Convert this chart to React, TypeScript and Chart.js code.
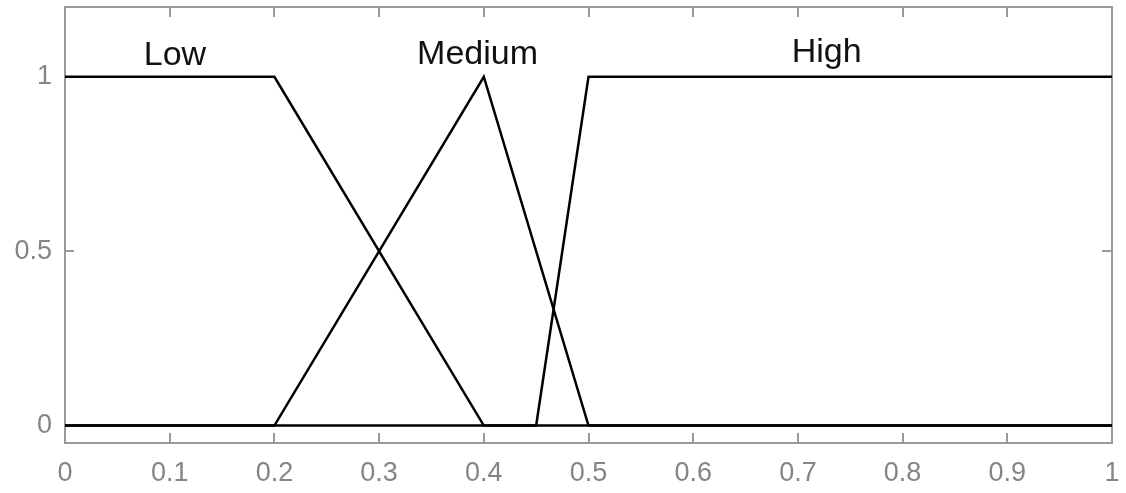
import React, { useEffect, useRef } from "react";
import { Chart, registerables } from "chart.js";

Chart.register(...registerables);

// Membership functions (x in [0,1], degree of membership)
const lowX = [0, 0.2, 0.4, 1];
const lowY = [1, 1, 0, 0];
const mediumX = [0, 0.2, 0.4, 0.5, 1];
const mediumY = [0, 0, 1, 0, 0];
const highX = [0, 0.45, 0.5, 1];
const highY = [0, 0, 1, 1];

const xTicks = [0, 0.1, 0.2, 0.3, 0.4, 0.5, 0.6, 0.7, 0.8, 0.9, 1];
const yTicks = [0, 0.5, 1];

const labelNames = ["Low", "Medium", "High"];
const labelX = [0.105, 0.394, 0.7275];
const labelY = [1.035, 1.037, 1.043];

const toPoints = (xs: number[], ys: number[]) => xs.map((x, i) => ({ x, y: ys[i] }));

const FONT = "'Liberation Sans', Arial, sans-serif";

const boxPlugin = {
  id: "matlabBox",
  beforeDatasetsDraw(chart: any) {
    const { ctx, chartArea } = chart;
    const { left, right, top, bottom } = chartArea;
    const xs = chart.scales.x;
    const ys = chart.scales.y;
    ctx.save();
    ctx.strokeStyle = "#9a9a9a";
    ctx.lineWidth = 2;
    ctx.strokeRect(left, top, right - left, bottom - top);
    ctx.lineWidth = 2;
    ctx.beginPath();
    xTicks.forEach((v) => {
      const px = Math.round(xs.getPixelForValue(v));
      ctx.moveTo(px, bottom);
      ctx.lineTo(px, bottom - 10);
      ctx.moveTo(px, top);
      ctx.lineTo(px, top + 10);
    });
    yTicks.forEach((v) => {
      const py = Math.round(ys.getPixelForValue(v));
      ctx.moveTo(left, py);
      ctx.lineTo(left + 9, py);
      ctx.moveTo(right, py);
      ctx.lineTo(right - 10, py);
    });
    ctx.stroke();
    ctx.restore();
  },
  afterDatasetsDraw(chart: any) {
    const { ctx } = chart;
    const xs = chart.scales.x;
    const ys = chart.scales.y;
    ctx.save();
    ctx.fillStyle = "#111";
    ctx.font = `34px ${FONT}`;
    ctx.textAlign = "center";
    ctx.textBaseline = "alphabetic";
    labelNames.forEach((name, i) => {
      ctx.fillText(name, xs.getPixelForValue(labelX[i]), ys.getPixelForValue(labelY[i]));
    });
    ctx.restore();
  },
};

export default function App() {
  const canvasRef = useRef<HTMLCanvasElement | null>(null);

  useEffect(() => {
    if (!canvasRef.current) return;
    const lineStyle = {
      borderColor: "#000",
      borderWidth: 2.5,
      pointRadius: 0,
      fill: false,
      tension: 0,
    };
    const chart = new Chart(canvasRef.current, {
      type: "line",
      data: {
        datasets: [
          { label: "Low", data: toPoints(lowX, lowY), ...lineStyle },
          { label: "Medium", data: toPoints(mediumX, mediumY), ...lineStyle },
          { label: "High", data: toPoints(highX, highY), ...lineStyle },
        ],
      },
      options: {
        responsive: false,
        animation: false,
        events: [],
        layout: { padding: { top: 7, right: 14, left: 0, bottom: 0 } },
        plugins: { legend: { display: false }, tooltip: { enabled: false } },
        scales: {
          x: {
            type: "linear",
            min: 0,
            max: 1,
            grid: { display: false, drawTicks: false },
            border: { display: false },
            afterBuildTicks: (scale: any) => {
              scale.ticks = xTicks.map((v) => ({ value: v }));
            },
            afterFit: (scale: any) => {
              scale.height = 50;
              scale.paddingLeft = 0;
              scale.paddingRight = 0;
              scale.paddingTop = 0;
              scale.paddingBottom = 0;
            },
            ticks: {
              autoSkip: false,
              maxRotation: 0,
              padding: 14,
              color: "#858585",
              font: { family: FONT, size: 27 },
              callback: (v: any) => String(Math.round(Number(v) * 10) / 10),
            },
          },
          y: {
            type: "linear",
            min: -0.05,
            max: 1.2,
            grid: { display: false, drawTicks: false },
            border: { display: false },
            afterBuildTicks: (scale: any) => {
              scale.ticks = yTicks.map((v) => ({ value: v }));
            },
            afterFit: (scale: any) => {
              scale.width = 65;
              scale.paddingLeft = 0;
              scale.paddingRight = 0;
              scale.paddingTop = 0;
              scale.paddingBottom = 0;
            },
            ticks: {
              padding: 13,
              color: "#858585",
              font: { family: FONT, size: 27 },
              callback: (v: any) => String(Math.round(Number(v) * 10) / 10),
            },
          },
        },
      },
      plugins: [boxPlugin],
    });
    return () => chart.destroy();
  }, []);

  return (
    <div style={{ position: "absolute", left: 0, top: 0, width: 1126, height: 493, background: "#fff" }}>
      <canvas ref={canvasRef} width={1126} height={493} style={{ display: "block" }} />
    </div>
  );
}
